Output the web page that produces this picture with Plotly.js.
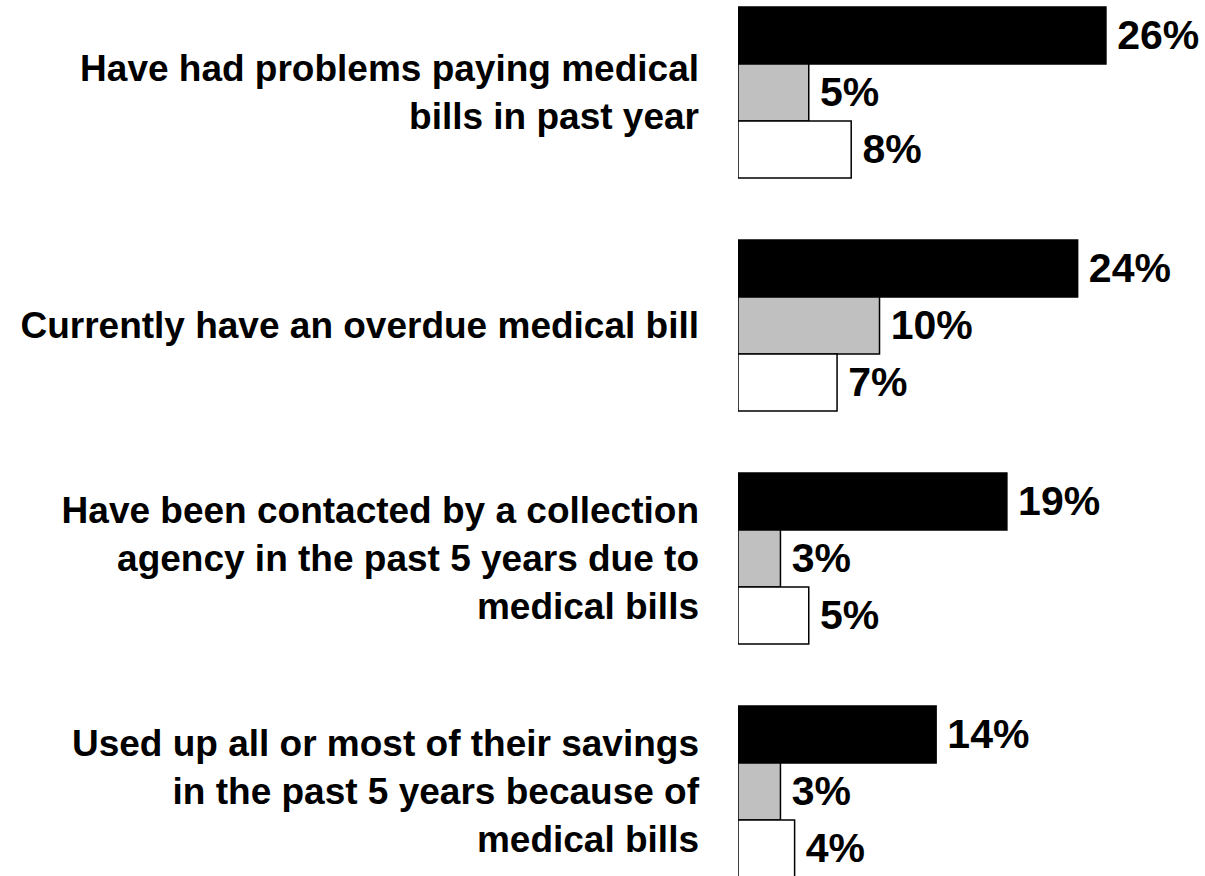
<!DOCTYPE html>
<html>
<head>
<meta charset="utf-8">
<script src="https://cdn.plot.ly/plotly-3.0.1.min.js"></script>
<style>html,body{margin:0;padding:0;background:#fff;}#chart{width:1205px;height:876px;}</style>
</head>
<body>
<div id="chart"></div>
<script>
const categories = [
  "Have had problems paying medical<br>bills in past year",
  "Currently have an overdue medical bill",
  "Have been contacted by a collection<br>agency in the past 5 years due to<br>medical bills",
  "Used up all or most of their savings<br>in the past 5 years because of<br>medical bills"
];
const seriesA = [26, 24, 19, 14];
const seriesB = [5, 10, 3, 3];
const seriesC = [8, 7, 5, 4];
const fills = ["#000000", "#c0c0c0", "#ffffff"];

const FONT = "Liberation Sans, Arial, sans-serif";
const traces = [seriesA, seriesB, seriesC].map((vals, i) => ({
  type: "bar",
  orientation: "h",
  y: categories,
  x: vals,
  text: vals.map(v => "\u2009" + v + "%"),
  textposition: "outside",
  constraintext: "none",
  textfont: {family: FONT, size: 41, color: "#000", weight: "bold"},
  cliponaxis: false,
  marker: {color: fills[i], line: {color: "#000", width: 1.5}},
  hoverinfo: "skip"
}));

const layout = {
  width: 1205, height: 876,
  margin: {l: 738, r: 0, t: 0, b: 0},
  paper_bgcolor: "#fff", plot_bgcolor: "#fff",
  barmode: "group",
  bargap: 0.266,
  bargroupgap: 0,
  showlegend: false,
  font: {family: FONT, color: "#000"},
  xaxis: {range: [0, 33], showgrid: false, zeroline: false, showline: false, showticklabels: false, ticks: ""},
  yaxis: {
    type: "category",
    range: [3.363, -0.397],
    showgrid: false, zeroline: false, showline: false, ticks: "",
    ticklabelstandoff: 38,
    tickfont: {family: FONT, size: 37, color: "#000", weight: "bold"}
  }
};
Plotly.newPlot("chart", traces, layout, {displayModeBar: false, staticPlot: true});
</script>
</body>
</html>
